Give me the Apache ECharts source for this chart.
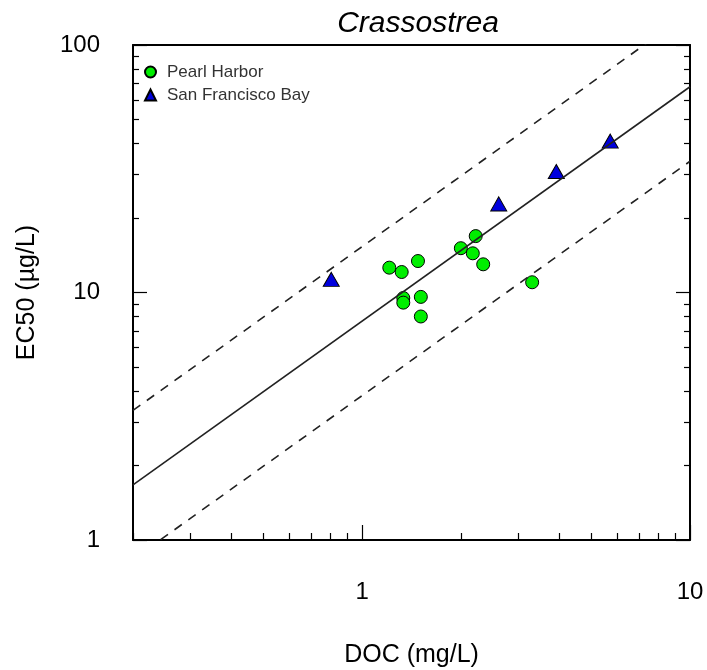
<!DOCTYPE html>
<html>
<head>
<meta charset="utf-8">
<script src="https://cdn.jsdelivr.net/npm/echarts@6/dist/echarts.min.js"></script>
<style>html,body{margin:0;padding:0;background:#fff}#c{width:707px;height:670px}</style>
</head>
<body>
<div id="c"></div>
<script>
// Data
const pearlDOC  = [1.21, 1.32, 1.48, 1.335, 1.335, 1.51, 1.51, 2.00, 2.22, 2.175, 2.34, 3.30];
const pearlEC50 = [12.6, 12.1, 13.4, 9.5, 9.1, 9.6, 8.0, 15.1, 16.9, 14.4, 13.0, 11.0];
const sfDOC  = [0.805, 2.61, 3.91, 5.71];
const sfEC50 = [11.3, 22.8, 30.8, 40.9];
const fitDOC   = [0.2, 10];
const fitEC50  = [1.67, 67.8];
const upperEC50 = [3.34, 135.6];
const lowerEC50 = [0.835, 33.9];
const xMajor = [1, 10];
const xMinor = [0.2, 0.3, 0.4, 0.5, 0.6, 0.7, 0.8, 0.9, 2, 3, 4, 5, 6, 7, 8, 9];
const yMajor = [1, 10, 100];
const yMinor = [2, 3, 4, 5, 6, 7, 8, 9, 20, 30, 40, 50, 60, 70, 80, 90];

const FONT = 'Liberation Sans, Arial, Helvetica, sans-serif';
const zip = (a, b) => a.map((v, i) => [v, b[i]]);

function xAx(pos, ticks, len, labels, line) {
  return {
    type: 'log', logBase: 10, min: 0.2, max: 10, position: pos,
    axisLine: {show: line, onZero: false, lineStyle: {color: '#000', width: 2}},
    axisTick: {show: len > 0, inside: true, length: len, customValues: ticks, lineStyle: {color: '#000', width: 1.2}},
    axisLabel: labels ? {show: true, customValues: xMajor, fontFamily: FONT, fontSize: 24, color: '#000', margin: 40} : {show: false},
    splitLine: {show: false}, minorTick: {show: false},
    name: labels ? 'DOC (mg/L)' : '', nameLocation: 'middle', nameGap: 103,
    nameTextStyle: {fontFamily: FONT, fontSize: 25, color: '#000'}
  };
}
function yAx(pos, ticks, len, labels, line) {
  return {
    type: 'log', logBase: 10, min: 1, max: 100, position: pos,
    axisLine: {show: line, onZero: false, lineStyle: {color: '#000', width: 2}},
    axisTick: {show: len > 0, inside: true, length: len, customValues: ticks, lineStyle: {color: '#000', width: 1.2}},
    axisLabel: labels ? {show: true, customValues: yMajor, fontFamily: FONT, fontSize: 24, color: '#000', margin: 33} : {show: false},
    splitLine: {show: false}, minorTick: {show: false},
    name: labels ? 'EC50 (µg/L)' : '', nameLocation: 'middle', nameGap: 93, nameRotate: 90,
    nameTextStyle: {fontFamily: FONT, fontSize: 25, color: '#000'}
  };
}

const chart = echarts.init(document.getElementById('c'), null, {renderer: 'canvas'});
chart.setOption({
  backgroundColor: '#fff',
  animation: false,
  title: {
    text: 'Crassostrea', left: 413, top: 4, textAlign: 'center',
    textStyle: {fontFamily: FONT, fontSize: 30, fontStyle: 'italic', fontWeight: 'normal', color: '#000'}
  },
  legend: {
    left: 139, top: 57, orient: 'vertical', itemWidth: 11, itemHeight: 11, itemGap: 3,
    data: ['Pearl Harbor', 'San Francisco Bay'],
    textStyle: {fontFamily: FONT, fontSize: 17, color: '#333', lineHeight: 20, padding: [0, 0, 0, 6]}
  },
  grid: {left: 133, right: 17, top: 45, bottom: 130, containLabel: false, outerBoundsMode: 'none'},
  xAxis: [
    xAx('bottom', xMajor, 15, true, true),
    xAx('bottom', xMinor, 7, false, false),
    xAx('top', xMajor, 0, false, true)
  ],
  yAxis: [
    yAx('left', yMajor, 14, true, true),
    yAx('left', yMinor, 6, false, false),
    yAx('right', yMajor, 14, false, true),
    yAx('right', yMinor, 6, false, false)
  ],
  series: [
    {type: 'line', data: zip(fitDOC, fitEC50), symbol: 'none', silent: true, clip: true,
     lineStyle: {color: '#222', width: 1.6}},
    {type: 'line', data: zip(fitDOC, upperEC50), symbol: 'none', silent: true, clip: true,
     lineStyle: {color: '#222', width: 1.6, type: [9, 8]}},
    {type: 'line', data: zip(fitDOC, lowerEC50), symbol: 'none', silent: true, clip: true,
     lineStyle: {color: '#222', width: 1.6, type: [9, 8]}},
    {name: 'Pearl Harbor', type: 'scatter', data: zip(pearlDOC, pearlEC50), symbol: 'circle', symbolSize: 13,
     itemStyle: {color: '#00ee00', borderColor: '#000', borderWidth: 1, opacity: 1}},
    {name: 'San Francisco Bay', type: 'scatter', data: zip(sfDOC, sfEC50), symbol: 'triangle', symbolSize: [16, 14],
     itemStyle: {color: '#0000dd', borderColor: '#000', borderWidth: 1, opacity: 1}}
  ]
});
</script>
</body>
</html>
